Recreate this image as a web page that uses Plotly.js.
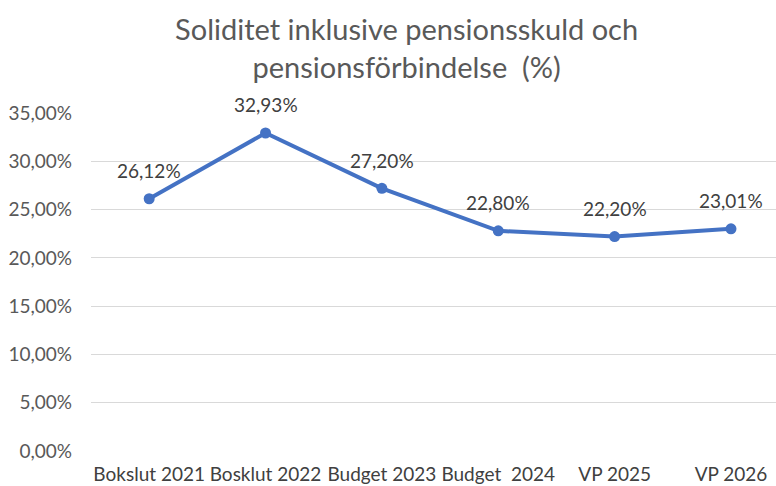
<!DOCTYPE html>
<html><head><meta charset="utf-8">
<script src="https://cdn.plot.ly/plotly-3.0.1.min.js"></script>
<style>html,body{margin:0;padding:0;background:#fff}#chart{width:776px;height:486px}</style>
</head><body><div id="chart"></div>
<script>
const categories = ["Bokslut 2021", "Bosklut 2022", "Budget 2023", "Budget\u00a0 2024", "VP 2025", "VP 2026"];
const values = [26.12, 32.93, 27.20, 22.80, 22.20, 23.01];
const yTicks = [0, 5, 10, 15, 20, 25, 30, 35];
const yTickLabels = ["0,00%", "5,00%", "10,00%", "15,00%", "20,00%", "25,00%", "30,00%", "35,00%"];
const titleText = "Soliditet inklusive pensionsskuld och<br>pensionsförbindelse  (%)";

const FONT = "Lato, 'Open Sans', sans-serif";
const trace = {
  x: categories.map((_, i) => i),
  y: values,
  type: "scatter",
  mode: "lines+markers",
  line: {color: "#4472C4", width: 4},
  marker: {color: "#4472C4", size: 11},
  hoverinfo: "skip"
};
const annotations = values.map((v, i) => ({
  x: i, y: v, xref: "x", yref: "y",
  text: v.toFixed(2).replace(".", ",") + "%",
  showarrow: false, yanchor: "middle", yshift: 28,
  font: {family: FONT, size: 19, color: "#404040"}
}));
const layout = {
  width: 776, height: 486,
  margin: {l: 91, r: 0, t: 113, b: 35},
  paper_bgcolor: "#fff", plot_bgcolor: "#fff",
  showlegend: false,
  title: {text: titleText, x: 0.524, xref: "container", xanchor: "center",
          y: 0.918, yref: "container", yanchor: "top",
          font: {family: FONT, size: 29, color: "#595959"}},
  xaxis: {
    range: [-0.5, 5.387],
    tickvals: categories.map((_, i) => i), ticktext: categories,
    showgrid: false, zeroline: false, showline: false, ticks: "",
    ticklabelstandoff: 10,
    tickfont: {family: FONT, size: 19, color: "#404040"}
  },
  yaxis: {
    range: [0, 35], tickvals: yTicks, ticktext: yTickLabels,
    showgrid: true, gridcolor: "#d9d9d9", gridwidth: 1,
    zeroline: false, showline: false, ticks: "",
    ticklabelstandoff: 18,
    tickfont: {family: FONT, size: 19, color: "#595959"}
  },
  annotations: annotations
};
Plotly.newPlot("chart", [trace], layout, {staticPlot: true, displayModeBar: false});
</script></body></html>
